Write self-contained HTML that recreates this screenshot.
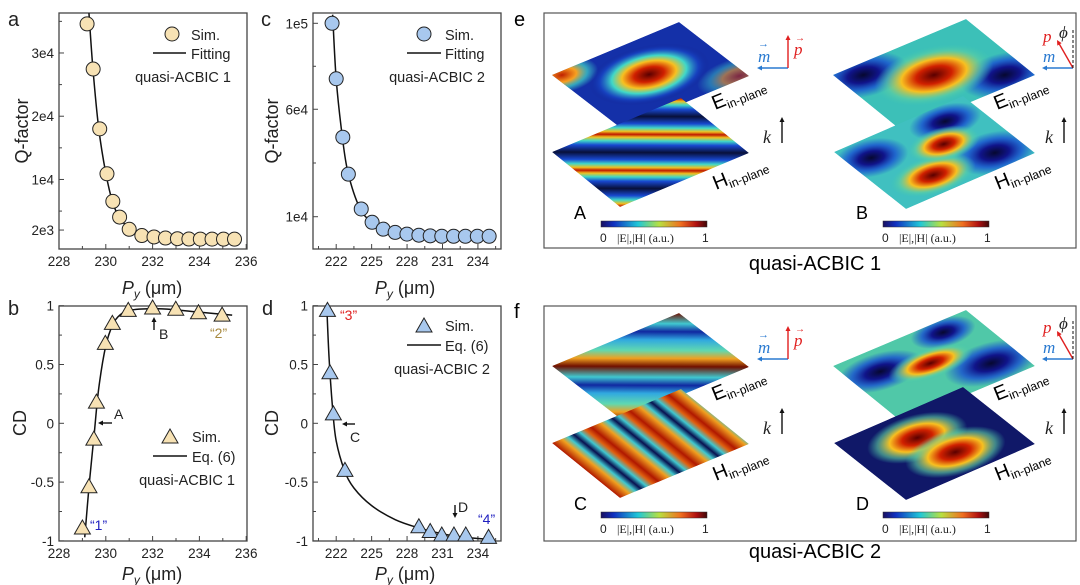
<!DOCTYPE html>
<html><head><meta charset="utf-8">
<style>
html,body{margin:0;padding:0;background:#fff;}
svg{display:block;font-family:"Liberation Sans",sans-serif;}
.it{font-family:"Liberation Serif",serif;font-style:italic;}
</style></head>
<body>
<svg id="fig" width="1080" height="585" viewBox="0 0 1080 585" xmlns="http://www.w3.org/2000/svg">
<defs>
  <clipPath id="unit" clipPathUnits="userSpaceOnUse"><rect x="0" y="0" width="1" height="1"/></clipPath>
  <linearGradient id="jet" x1="0" y1="0" x2="1" y2="0">
    <stop offset="0" stop-color="#1a1060"/><stop offset="0.12" stop-color="#1030c0"/>
    <stop offset="0.35" stop-color="#20c8d8"/><stop offset="0.55" stop-color="#b8e040"/>
    <stop offset="0.75" stop-color="#f07020"/><stop offset="0.9" stop-color="#b01010"/>
    <stop offset="1" stop-color="#400808"/>
  </linearGradient>
  <radialGradient id="blobRed" cx="0.5" cy="0.5" r="0.5">
    <stop offset="0" stop-color="#5a0000"/><stop offset="0.25" stop-color="#d02000"/>
    <stop offset="0.45" stop-color="#f8c020"/><stop offset="0.62" stop-color="#40d8c8"/>
    <stop offset="0.82" stop-color="#1848c8" stop-opacity="0.7"/><stop offset="1" stop-color="#10208f" stop-opacity="0"/>
  </radialGradient>
  <radialGradient id="blobRed2" cx="0.5" cy="0.5" r="0.5">
    <stop offset="0" stop-color="#5a0000"/><stop offset="0.3" stop-color="#d02000"/>
    <stop offset="0.55" stop-color="#f8c020"/><stop offset="0.8" stop-color="#60d0a0" stop-opacity="0.6"/>
    <stop offset="1" stop-color="#40c8b0" stop-opacity="0"/>
  </radialGradient>
  <radialGradient id="blobBlue" cx="0.5" cy="0.5" r="0.5">
    <stop offset="0" stop-color="#060830"/><stop offset="0.35" stop-color="#10148a"/>
    <stop offset="0.65" stop-color="#1850d0" stop-opacity="0.8"/><stop offset="1" stop-color="#1850d0" stop-opacity="0"/>
  </radialGradient>
  <radialGradient id="blobOrange" cx="0.5" cy="0.5" r="0.5">
    <stop offset="0" stop-color="#c02000"/><stop offset="0.4" stop-color="#f8a020"/>
    <stop offset="0.7" stop-color="#40d8c8" stop-opacity="0.7"/><stop offset="1" stop-color="#40d8c8" stop-opacity="0"/>
  </radialGradient>
  <linearGradient id="stripesA" gradientUnits="userSpaceOnUse" x1="0" y1="0" x2="0.33" y2="-0.33" spreadMethod="repeat">
    <stop offset="0" stop-color="#08103a"/><stop offset="0.2" stop-color="#1848d0"/>
    <stop offset="0.32" stop-color="#40d8c8"/><stop offset="0.42" stop-color="#f0c020"/>
    <stop offset="0.5" stop-color="#c01800"/><stop offset="0.58" stop-color="#f0c020"/>
    <stop offset="0.68" stop-color="#40d8c8"/><stop offset="0.8" stop-color="#1848d0"/>
    <stop offset="1" stop-color="#08103a"/>
  </linearGradient>
  <linearGradient id="stripesC" gradientUnits="userSpaceOnUse" x1="0" y1="0" x2="0.5" y2="-0.5" spreadMethod="repeat">
    <stop offset="0" stop-color="#701000"/><stop offset="0.15" stop-color="#f0a020"/>
    <stop offset="0.3" stop-color="#60d8b0"/><stop offset="0.5" stop-color="#30a8e0"/>
    <stop offset="0.65" stop-color="#1028a0"/><stop offset="0.8" stop-color="#40c8d0"/>
    <stop offset="1" stop-color="#701000"/>
  </linearGradient>
  <linearGradient id="stripesCH" gradientUnits="userSpaceOnUse" x1="0" y1="0" x2="0.3" y2="0" spreadMethod="repeat">
    <stop offset="0" stop-color="#b01800"/><stop offset="0.25" stop-color="#f0a020"/>
    <stop offset="0.4" stop-color="#40c8d0"/><stop offset="0.55" stop-color="#081050"/>
    <stop offset="0.7" stop-color="#40c8d0"/><stop offset="0.85" stop-color="#e06010"/>
    <stop offset="1" stop-color="#b01800"/>
  </linearGradient>
</defs>

<g>
  <rect x="544" y="13" width="532" height="235" fill="none" stroke="#555" stroke-width="1.2"/>
  <text x="514" y="26" font-size="20">e</text>
  <g transform="matrix(127,-53,70,54,552,75)"><g clip-path="url(#unit)">
    <rect x="0" y="0" width="1" height="1" fill="#1430a8"/>
    <ellipse cx="0.05" cy="0.05" rx="0.25" ry="0.25" fill="url(#blobOrange)"/>
    <ellipse cx="0.95" cy="0.95" rx="0.3" ry="0.25" fill="url(#blobOrange)" opacity="0.6"/>
    <ellipse cx="0.5" cy="0.48" rx="0.42" ry="0.4" fill="url(#blobRed)"/>
  </g></g>
  <g transform="matrix(129,-54,68,55,552,152)"><g clip-path="url(#unit)">
    <rect x="0" y="0" width="1" height="1" fill="url(#stripesA)"/>
  </g></g>
  <g transform="matrix(133,-56,69,56,833,75)"><g clip-path="url(#unit)">
    <rect x="0" y="0" width="1" height="1" fill="#3cc0b8"/>
    <ellipse cx="0.15" cy="0.15" rx="0.3" ry="0.3" fill="url(#blobBlue)"/>
    <ellipse cx="0.85" cy="0.85" rx="0.3" ry="0.3" fill="url(#blobBlue)"/>
    <ellipse cx="0.5" cy="0.5" rx="0.4" ry="0.38" fill="url(#blobRed2)"/>
  </g></g>
  <g transform="matrix(129,-56,72,57,834,152)"><g clip-path="url(#unit)">
    <rect x="0" y="0" width="1" height="1" fill="#40c0c0"/>
    <ellipse cx="0.15" cy="0.25" rx="0.25" ry="0.25" fill="url(#blobBlue)"/>
    <ellipse cx="0.8" cy="0.8" rx="0.28" ry="0.28" fill="url(#blobBlue)"/>
    <ellipse cx="0.75" cy="0.2" rx="0.25" ry="0.22" fill="url(#blobBlue)"/>
    <ellipse cx="0.35" cy="0.75" rx="0.3" ry="0.25" fill="url(#blobRed2)"/>
    <ellipse cx="0.6" cy="0.45" rx="0.25" ry="0.22" fill="url(#blobRed2)"/>
  </g></g>
  <g>
    <text x="715" y="110" font-size="20" transform="rotate(-22 715 110)">E<tspan font-size="12" dy="4">in-plane</tspan></text>
    <text x="716" y="190" font-size="20" transform="rotate(-22 716 190)">H<tspan font-size="12" dy="4">in-plane</tspan></text>
    <text x="997" y="110" font-size="20" transform="rotate(-22 997 110)">E<tspan font-size="12" dy="4">in-plane</tspan></text>
    <text x="998" y="190" font-size="20" transform="rotate(-22 998 190)">H<tspan font-size="12" dy="4">in-plane</tspan></text>
    <text x="574" y="219" font-size="18">A</text>
    <text x="856" y="219" font-size="18">B</text>
  </g>
</g>

<g>
  <rect x="544" y="306" width="532" height="235" fill="none" stroke="#555" stroke-width="1.2"/>
  <text x="514" y="318" font-size="20">f</text>
  <g transform="matrix(127,-53,70,54,552,366)"><g clip-path="url(#unit)">
    <rect x="0" y="0" width="1" height="1" fill="url(#stripesC)"/>
  </g></g>
  <g transform="matrix(129,-54,68,55,552,443)"><g clip-path="url(#unit)">
    <rect x="0" y="0" width="1" height="1" fill="url(#stripesCH)"/>
  </g></g>
  <g transform="matrix(133,-56,69,56,833,366)"><g clip-path="url(#unit)">
    <rect x="0" y="0" width="1" height="1" fill="#50c8a8"/>
    <ellipse cx="0.2" cy="0.3" rx="0.3" ry="0.25" fill="url(#blobBlue)"/>
    <ellipse cx="0.8" cy="0.75" rx="0.32" ry="0.28" fill="url(#blobBlue)"/>
    <ellipse cx="0.75" cy="0.15" rx="0.22" ry="0.2" fill="url(#blobBlue)"/>
    <ellipse cx="0.5" cy="0.45" rx="0.3" ry="0.2" fill="url(#blobRed2)"/>
  </g></g>
  <g transform="matrix(129,-56,72,57,834,443)"><g clip-path="url(#unit)">
    <rect x="0" y="0" width="1" height="1" fill="#101868"/>
    <ellipse cx="0.45" cy="0.35" rx="0.35" ry="0.3" fill="url(#blobRed2)"/>
    <ellipse cx="0.55" cy="0.7" rx="0.35" ry="0.3" fill="url(#blobRed2)"/>
  </g></g>
  <g>
    <text x="715" y="401" font-size="20" transform="rotate(-22 715 401)">E<tspan font-size="12" dy="4">in-plane</tspan></text>
    <text x="716" y="481" font-size="20" transform="rotate(-22 716 481)">H<tspan font-size="12" dy="4">in-plane</tspan></text>
    <text x="997" y="401" font-size="20" transform="rotate(-22 997 401)">E<tspan font-size="12" dy="4">in-plane</tspan></text>
    <text x="998" y="481" font-size="20" transform="rotate(-22 998 481)">H<tspan font-size="12" dy="4">in-plane</tspan></text>
    <text x="574" y="510" font-size="18">C</text>
    <text x="856" y="510" font-size="18">D</text>
  </g>
</g>

<text x="815" y="270" font-size="20" text-anchor="middle">quasi-ACBIC 1</text>
<text x="815" y="558" font-size="20" text-anchor="middle">quasi-ACBIC 2</text>
<g id="dyn"></g>
</svg>

<script>
// ---- data ----
const qaX=[229.2,229.46,229.74,230.05,230.3,230.59,231.0,231.54,232.06,232.55,233.06,233.55,234.04,234.54,235.03,235.5];
const qaQ=[34600,27460,18000,10900,6530,4050,2120,1130,910,740,630,580,570,570,560,560];
const fitAX=[229.28,229.45,229.7,230.0,230.3,230.6,231.0,231.5,232,233,234,235.6];
const fitAQ=[36300,27500,18000,11000,6300,3900,2300,1300,1000,750,650,600];
const qcX=[221.65,222.0,222.56,223.03,224.12,225.04,225.98,226.99,227.99,229.0,229.96,230.94,231.94,232.94,233.95,234.95];
const qcQ=[100000,74200,47000,29800,13600,7400,4200,2700,1900,1400,1100,900,900,900,900,900];
const fitCX=[221.7,222,222.5,223,224,225,226,227,228,230,232,235.5];
const fitCQ=[104000,74000,48000,30500,14000,7500,4300,2700,1900,1100,850,700];
const cdbX=[229.0,229.28,229.49,229.6,229.98,230.28,230.96,232.0,232.99,233.96,234.97];
const cdbY=[-0.89,-0.54,-0.135,0.18,0.68,0.85,0.96,0.98,0.97,0.94,0.92];
const eqBX=[229.1,229.3,229.5,229.7,230.0,230.3,230.6,231,232,233,234,235.4];
const eqBY=[-0.97,-0.5,-0.1,0.3,0.66,0.84,0.92,0.96,0.975,0.965,0.945,0.92];
const cddX=[221.26,221.47,221.76,222.74,229.0,229.96,230.94,231.97,232.97,234.9];
const cddY=[0.96,0.43,0.08,-0.4,-0.88,-0.92,-0.95,-0.95,-0.95,-0.97];
const eqDX=[221.2,221.4,221.7,222,222.7,223.5,225,227,229,231,233,235.4];
const eqDY=[1.0,0.55,0.12,-0.15,-0.4,-0.55,-0.7,-0.82,-0.89,-0.94,-0.97,-0.99];
const tickAX=[228,230,232,234,236];
const tickAY=[2000,10000,20000,30000];
const tickAYLabels=['2e3','1e4','2e4','3e4'];
const tickCX=[222,225,228,231,234];
const tickCY=[10000,60000,100000];
const tickCYLabels=['1e4','6e4','1e5'];
const tickCD=[-1,-0.5,0,0.5,1];
const tickCDLabels=['-1','-0.5','0','0.5','1'];

const NS='http://www.w3.org/2000/svg';
const root=document.getElementById('dyn');
function mk(tag,attrs,parent){const e=document.createElementNS(NS,tag);for(const k in attrs)e.setAttribute(k,attrs[k]);(parent||root).appendChild(e);return e;}

const xA=v=>59+(v-228)*23.4;
const yA=v=>242.7-v*0.006324;
const xC=v=>336.2+(v-222)*11.81;
const yC=v=>238.2-v*0.002149;
const yCD=v=>423.3-v*117.6;

function smooth(xs,ys,fx,fy){
  const p=xs.map((x,i)=>[fx(x),fy(ys[i])]);
  let d='M'+p[0][0]+','+p[0][1];
  for(let i=0;i<p.length-1;i++){
    const p0=p[i-1]||p[i],p1=p[i],p2=p[i+1],p3=p[i+2]||p2;
    const c1=[p1[0]+(p2[0]-p0[0])/6,p1[1]+(p2[1]-p0[1])/6];
    const c2=[p2[0]-(p3[0]-p1[0])/6,p2[1]-(p3[1]-p1[1])/6];
    d+=' C'+c1+' '+c2+' '+p2;
  }
  return d;
}

function axes(id,x0,x1,y0,y1,xt,xl,fx,yt,yl,fy,xminor,yminor){
  const g=mk('g',{});
  
  
  const r=mk('rect',{x:x0,y:y0,width:x1-x0,height:y1-y0,fill:'none',stroke:'#444','stroke-width':1.3},g);
  
  
  xt.forEach((v,i)=>{
    const t=mk('line',{x1:fx(v),x2:fx(v),y1:y1,y2:y1-5,stroke:'#444','stroke-width':1},g);
    
    
    const l=mk('text',{x:fx(v),y:y1+17,'font-size':13.5,'text-anchor':'middle',fill:'#222'},g);
    
    
    l.textContent=xl[i];
  });
  xminor.forEach(v=>{
    const t=mk('line',{x1:fx(v),x2:fx(v),y1:y1,y2:y1-3,stroke:'#444','stroke-width':1},g);
    
    
  });
  yt.forEach((v,i)=>{
    const t=mk('line',{x1:x0,x2:x0+5,y1:fy(v),y2:fy(v),stroke:'#444','stroke-width':1},g);
    
    
    const l=mk('text',{x:x0-5,y:fy(v)+5,'font-size':13.5,'text-anchor':'end',fill:'#222'},g);
    
    
    l.textContent=yl[i];
  });
  yminor.forEach(v=>{
    const t=mk('line',{x1:x0,x2:x0+3,y1:fy(v),y2:fy(v),stroke:'#444','stroke-width':1},g);
    
    
  });
  return g;
}

function text(name,x,y,s,size,opts){
  const t=mk('text',Object.assign({x:x,y:y,'font-size':size||14,fill:'#222'},opts||{}));
  
  
  t.textContent=s;
  return t;
}
function xtitle(name,cx,y){
  const t=mk('text',{x:cx,y:y,'font-size':18,'text-anchor':'middle',fill:'#222'});
  
  
  const a=mk('tspan',{'font-style':'italic'},t);a.textContent='P';
  const b=mk('tspan',{'font-style':'italic','font-size':12,dy:4},t);b.textContent='y';
  const c=mk('tspan',{dy:-4},t);c.textContent=' (μm)';
}
function ytitle(name,x,cy,s){
  const t=mk('text',{x:x,y:cy,'font-size':18,'text-anchor':'middle',fill:'#222',transform:'rotate(-90 '+x+' '+cy+')'});
  
  
  t.textContent=s;
}
function curve(name,xs,ys,fx,fy){
  const p=mk('path',{d:smooth(xs,ys,fx,fy),fill:'none',stroke:'#111','stroke-width':1.5});
  
  
}
function circ(name,x,y,fill){
  const c=mk('circle',{cx:x,cy:y,r:7,fill:fill,stroke:'#222','stroke-width':1});
  
  
}
function tri(name,x,y,fill){
  const p=mk('polygon',{points:(x-8)+','+(y+6)+' '+(x+8)+','+(y+6)+' '+x+','+(y-8),fill:fill,stroke:'#222','stroke-width':1});
  
  
}
function legline(name,x1,x2,y){
  const l=mk('line',{x1:x1,x2:x2,y1:y,y2:y,stroke:'#111','stroke-width':1.5});
  
  
}
function arrow(name,x1,y1,x2,y2,color,w){
  const g=mk('g',{});
  
  
  const ang=Math.atan2(y2-y1,x2-x1),h=w||5;
  mk('line',{x1:x1,y1:y1,x2:x2-Math.cos(ang)*h*0.8,y2:y2-Math.sin(ang)*h*0.8,stroke:color,'stroke-width':1.4},g);
  const p1=[x2-h*Math.cos(ang)+h*0.5*Math.sin(ang),y2-h*Math.sin(ang)-h*0.5*Math.cos(ang)];
  const p2=[x2-h*Math.cos(ang)-h*0.5*Math.sin(ang),y2-h*Math.sin(ang)+h*0.5*Math.cos(ang)];
  mk('polygon',{points:x2+','+y2+' '+p1+' '+p2,fill:color},g);
}

// ---- panel a ----
axes('panel-a',59,247,13,249,tickAX,tickAX.map(String),xA,tickAY,tickAYLabels,yA,[229,231,233,235],[5000,15000,25000,35000]);
curve('fitting-curve-a',fitAX,fitAQ,xA,yA);
qaX.forEach((x,i)=>circ('sim-point-a',xA(x),yA(qaQ[i]),'#f7e2b4'));
text('panel-a-letter',8,26,'a',20);
ytitle('y-axis-title-a',28,131,'Q-factor');
xtitle('x-axis-title-a',152,294);
circ('legend-sim-marker-a',172,34,'#f7e2b4');
text('legend-sim-label-a',191,40,'Sim.',14.5);
legline('legend-fitting-line-a',153,186,53);
text('legend-fitting-label-a',191,59,'Fitting',14.5);
text('legend-title-a',231,82,'quasi-ACBIC 1',14.5,{'text-anchor':'end'});

// ---- panel c ----
axes('panel-c',313,501,13,249,tickCX,tickCX.map(String),xC,tickCY,tickCYLabels,yC,[220.5,223.5,226.5,229.5,232.5,235.5],[35000,80000]);
curve('fitting-curve-c',fitCX,fitCQ,xC,yC);
qcX.forEach((x,i)=>circ('sim-point-c',xC(x),yC(qcQ[i]),'#a8c8ee'));
text('panel-c-letter',261,26,'c',20);
ytitle('y-axis-title-c',278,131,'Q-factor');
xtitle('x-axis-title-c',405,294);
circ('legend-sim-marker-c',424,34,'#a8c8ee');
text('legend-sim-label-c',445,40,'Sim.',14.5);
legline('legend-fitting-line-c',407,441,53);
text('legend-fitting-label-c',445,59,'Fitting',14.5);
text('legend-title-c',485,82,'quasi-ACBIC 2',14.5,{'text-anchor':'end'});

// ---- panel b ----
axes('panel-b',59,247,306,541,tickAX,tickAX.map(String),xA,tickCD,tickCDLabels,yCD,[229,231,233,235],[-0.75,-0.25,0.25,0.75]);
curve('eq6-curve-b',eqBX,eqBY,xA,yCD);
cdbX.forEach((x,i)=>tri('sim-point-b',xA(x),yCD(cdbY[i]),'#f7e2b4'));
text('panel-b-letter',8,315,'b',20);
ytitle('y-axis-title-b',26,423,'CD');
xtitle('x-axis-title-b',152,580);
tri('legend-sim-marker-b',170,437,'#f7e2b4');
text('legend-sim-label-b',192,442,'Sim.',14.5);
legline('legend-eq-line-b',153,187,456);
text('legend-eq-label-b',192,462,'Eq. (6)',14.5);
text('legend-title-b',235,485,'quasi-ACBIC 1',14.5,{'text-anchor':'end'});
text('annot-2',210,338,'“2”',14,{fill:'#a88a40'});
text('annot-1',90,530,'“1”',14,{fill:'#2020c0'});
arrow('arrow-A',112,423,98,423,'#111',5);
text('annot-A',114,419,'A',14);
arrow('arrow-B',154,330,154,317,'#111',5);
text('annot-B',159,339,'B',14);

// ---- panel d ----
axes('panel-d',313,501,306,541,tickCX,tickCX.map(String),xC,tickCD,tickCDLabels,yCD,[220.5,223.5,226.5,229.5,232.5,235.5],[-0.75,-0.25,0.25,0.75]);
curve('eq6-curve-d',eqDX,eqDY,xC,yCD);
cddX.forEach((x,i)=>tri('sim-point-d',xC(x),yCD(cddY[i]),'#a8c8ee'));
text('panel-d-letter',262,315,'d',20);
ytitle('y-axis-title-d',278,423,'CD');
xtitle('x-axis-title-d',405,580);
tri('legend-sim-marker-d',424,326,'#a8c8ee');
text('legend-sim-label-d',445,331,'Sim.',14.5);
legline('legend-eq-line-d',407,441,345);
text('legend-eq-label-d',445,351,'Eq. (6)',14.5);
text('legend-title-d',490,374,'quasi-ACBIC 2',14.5,{'text-anchor':'end'});
text('annot-3',340,320,'“3”',14,{fill:'#e02020'});
text('annot-4',478,524,'“4”',14,{fill:'#2020c0'});
arrow('arrow-C',355,424,342,424,'#111',5);
text('annot-C',350,442,'C',14);
arrow('arrow-D',455,505,455,518,'#111',5);
text('annot-D',458,512,'D',14);

// ---- vector icons + colorbars for e,f ----
[[0,'e'],[291,'f']].forEach(([dy,p])=>{
  arrow('m-arrow-'+p+'-left',788,68+dy,757,68+dy,'#2a7ad0',5);
  arrow('p-arrow-'+p+'-left',788,68+dy,788,35+dy,'#e02020',5);
  text('m-label-'+p+'-left',758,62+dy,'m',17,{'class':'it',fill:'#2a7ad0'});
  text('m-vec-'+p+'-left',758,47+dy,'→',11,{fill:'#2a7ad0'});
  text('p-label-'+p+'-left',794,55+dy,'p',17,{'class':'it',fill:'#e02020'});
  text('p-vec-'+p+'-left',795,41+dy,'→',10,{fill:'#e02020'});
  arrow('k-arrow-'+p+'-left',782,143+dy,782,117+dy,'#111',5);
  text('k-label-'+p+'-left',763,143+dy,'k',18,{'class':'it'});
  arrow('m-arrow-'+p+'-right',1073,68+dy,1042,68+dy,'#2a7ad0',5);
  arrow('p-arrow-'+p+'-right',1073,68+dy,1057,40+dy,'#e02020',5);
  const dl=mk('line',{x1:1073,y1:68+dy,x2:1073,y2:30+dy,stroke:'#111','stroke-width':1,'stroke-dasharray':'3,2'});
  
  
  text('phi-label-'+p,1059,38+dy,'ϕ',17,{'class':'it'});
  text('m-label-'+p+'-right',1043,62+dy,'m',17,{'class':'it',fill:'#2a7ad0'});
  text('p-label-'+p+'-right',1043,42+dy,'p',17,{'class':'it',fill:'#e02020'});
  arrow('k-arrow-'+p+'-right',1064,143+dy,1064,117+dy,'#111',5);
  text('k-label-'+p+'-right',1045,143+dy,'k',18,{'class':'it'});
  [601,883].forEach((cx,j)=>{
    const r=mk('rect',{x:cx,y:221+dy,width:106,height:6,fill:'url(#jet)',stroke:'#333','stroke-width':0.5});
    
    
    text('colorbar-min-'+p+'-'+j,cx-1,242+dy,'0',12);
    text('colorbar-title-'+p+'-'+j,cx+16,242+dy,'|E|,|H| (a.u.)',12,{'font-family':'Liberation Serif'});
    text('colorbar-max-'+p+'-'+j,cx+101,242+dy,'1',12);
  });
});
</script>
</body></html>
